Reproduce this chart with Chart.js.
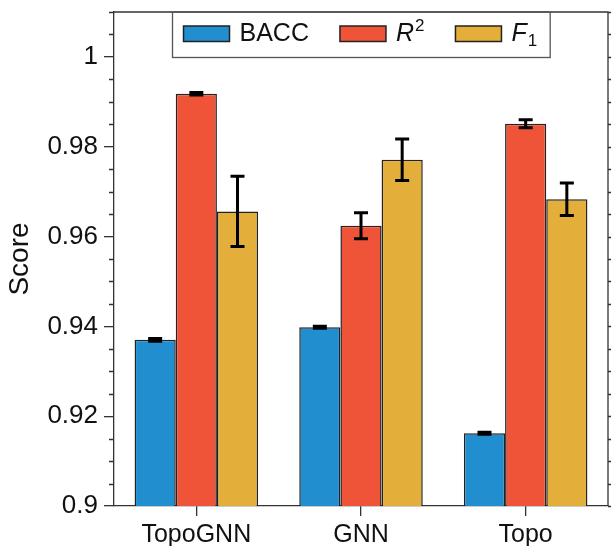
<!DOCTYPE html>
<html>
<head>
<meta charset="utf-8">
<script src="https://cdn.jsdelivr.net/npm/chart.js@4"></script>
<style>
  body { margin: 0; background: #fff; }
  canvas { display: block; }
</style>
</head>
<body>
<canvas id="scoreChart" width="611" height="546"></canvas>
<script>
const categories = ['TopoGNN', 'GNN', 'Topo'];
const baccValues = [0.9370, 0.9398, 0.9162];
const baccErrors = [0.0003, 0.0002, 0.0002];
const r2Values = [0.9918, 0.9624, 0.9851];
const r2Errors = [0.0003, 0.0029, 0.0009];
const f1Values = [0.9656, 0.9771, 0.9683];
const f1Errors = [0.0078, 0.0046, 0.0036];
const yTicks = [0.9, 0.92, 0.94, 0.96, 0.98, 1];

const FONT = '"Liberation Sans", Arial, Helvetica, sans-serif';
const AXIS = '#333';

// error bars drawn on top of each bar, from the y scale
const errorBars = {
    id: 'errorBars',
    afterDatasetsDraw(chart) {
        const ctx = chart.ctx;
        const y = chart.scales.y;
        ctx.save();
        ctx.strokeStyle = '#000';
        ctx.lineWidth = 3;
        chart.data.datasets.forEach((ds, i) => {
            chart.getDatasetMeta(i).data.forEach((bar, j) => {
                const v = ds.data[j], e = ds.errors[j];
                const top = y.getPixelForValue(v + e);
                const bot = y.getPixelForValue(v - e);
                ctx.beginPath();
                ctx.moveTo(bar.x, top); ctx.lineTo(bar.x, bot);
                ctx.moveTo(bar.x - 7, top); ctx.lineTo(bar.x + 7, top);
                ctx.moveTo(bar.x - 7, bot); ctx.lineTo(bar.x + 7, bot);
                ctx.stroke();
            });
        });
        ctx.restore();
    }
};

// top/right spines, minor ticks, right-side ticks
const frame = {
    id: 'frame',
    afterDraw(chart) {
        const ctx = chart.ctx;
        const a = chart.chartArea;
        const y = chart.scales.y;
        ctx.save();
        ctx.strokeStyle = AXIS;
        ctx.lineWidth = 1.3;
        ctx.beginPath();
        ctx.moveTo(a.left, a.top); ctx.lineTo(a.right, a.top); ctx.lineTo(a.right, a.bottom);
        for (let k = 0; k <= 22; k++) {
            const v = 0.9 + k * 0.005;
            const py = Math.round(y.getPixelForValue(v)) + 0.5;
            const major = k % 4 === 0;
            const len = major ? 10 : 5;
            if (!major) { ctx.moveTo(a.left - len, py); ctx.lineTo(a.left, py); }
            ctx.moveTo(a.right, py); ctx.lineTo(a.right + len, py);
        }
        ctx.stroke();
        ctx.restore();
    }
};

// legend box with R^2 and F_1 math labels
const mathLegend = {
    id: 'mathLegend',
    afterDraw(chart) {
        const ctx = chart.ctx;
        const a = chart.chartArea;
        const left = 172.5, top = a.top, h = 45.5;
        const big = '25px ' + FONT, small = '17px ' + FONT;
        const it = (s) => 'italic ' + s;
        const items = [
            { ds: 0, parts: [[big, 'BACC', 0]] },
            { ds: 1, parts: [[it(big), 'R', 0], [small, '2', -10]] },
            { ds: 2, parts: [[it(big), 'F', 0], [small, '1', 5]] }
        ];
        ctx.save();
        let x = left + 11;
        const base = top + 29;
        items.forEach(item => {
            const ds = chart.data.datasets[item.ds];
            ctx.fillStyle = ds.backgroundColor;
            ctx.fillRect(x, top + 14, 46, 15.5);
            ctx.strokeStyle = '#222';
            ctx.lineWidth = 1.5;
            ctx.strokeRect(x, top + 14, 46, 15.5);
            x += 56;
            ctx.fillStyle = '#111';
            ctx.textBaseline = 'alphabetic';
            item.parts.forEach(([f, t, dy]) => {
                ctx.font = f;
                ctx.fillText(t, x, base + dy);
                x += ctx.measureText(t).width + (f.startsWith('italic') ? 1 : 0);
            });
            x += 31;
        });
        const right = x - 31 + 13;
        ctx.strokeStyle = '#555';
        ctx.lineWidth = 1.3;
        ctx.strokeRect(left, top, right - left, h);
        ctx.restore();
    }
};

const barStyle = { borderColor: '#222', borderWidth: 1.5, borderSkipped: 'start' };

new Chart(document.getElementById('scoreChart'), {
    type: 'bar',
    data: {
        labels: categories,
        datasets: [
            { label: 'BACC', data: baccValues, errors: baccErrors, backgroundColor: '#218ecf', ...barStyle },
            { label: 'R2', data: r2Values, errors: r2Errors, backgroundColor: '#f05438', ...barStyle },
            { label: 'F1', data: f1Values, errors: f1Errors, backgroundColor: '#e3ae39', ...barStyle }
        ]
    },
    options: {
        responsive: false,
        animation: false,
        devicePixelRatio: 1,
        layout: { padding: { top: 12, right: 3, left: 0, bottom: 0 } },
        datasets: { bar: { categoryPercentage: 0.75, barPercentage: 1 } },
        plugins: { legend: { display: false }, tooltip: { enabled: false } },
        scales: {
            x: {
                grid: { display: true, drawOnChartArea: false, offset: false, tickLength: 10, color: AXIS, lineWidth: 1.3 },
                border: { display: true, color: AXIS, width: 1.3 },
                ticks: { color: '#111', font: { family: FONT, size: 25 }, padding: 4, maxRotation: 0 },
                afterFit(s) { s.height = 40; s.paddingLeft = 0; s.paddingRight = 0; }
            },
            y: {
                min: 0.9,
                max: 1.01,
                afterBuildTicks(s) { s.ticks = yTicks.map(v => ({ value: v })); },
                grid: { display: true, drawOnChartArea: false, tickLength: 10, color: AXIS, lineWidth: 1.3 },
                border: { display: true, color: AXIS, width: 1.3 },
                ticks: {
                    color: '#111', font: { family: FONT, size: 26 }, padding: 6,
                    callback: v => String(+v.toFixed(3))
                },
                title: { display: true, text: 'Score', color: '#111', font: { family: FONT, size: 28 }, padding: { top: 3, bottom: 0 } },
                afterFit(s) { s.width = 114; s.paddingTop = 0; s.paddingBottom = 0; }
            }
        }
    },
    plugins: [errorBars, frame, mathLegend]
});
</script>
</body>
</html>
